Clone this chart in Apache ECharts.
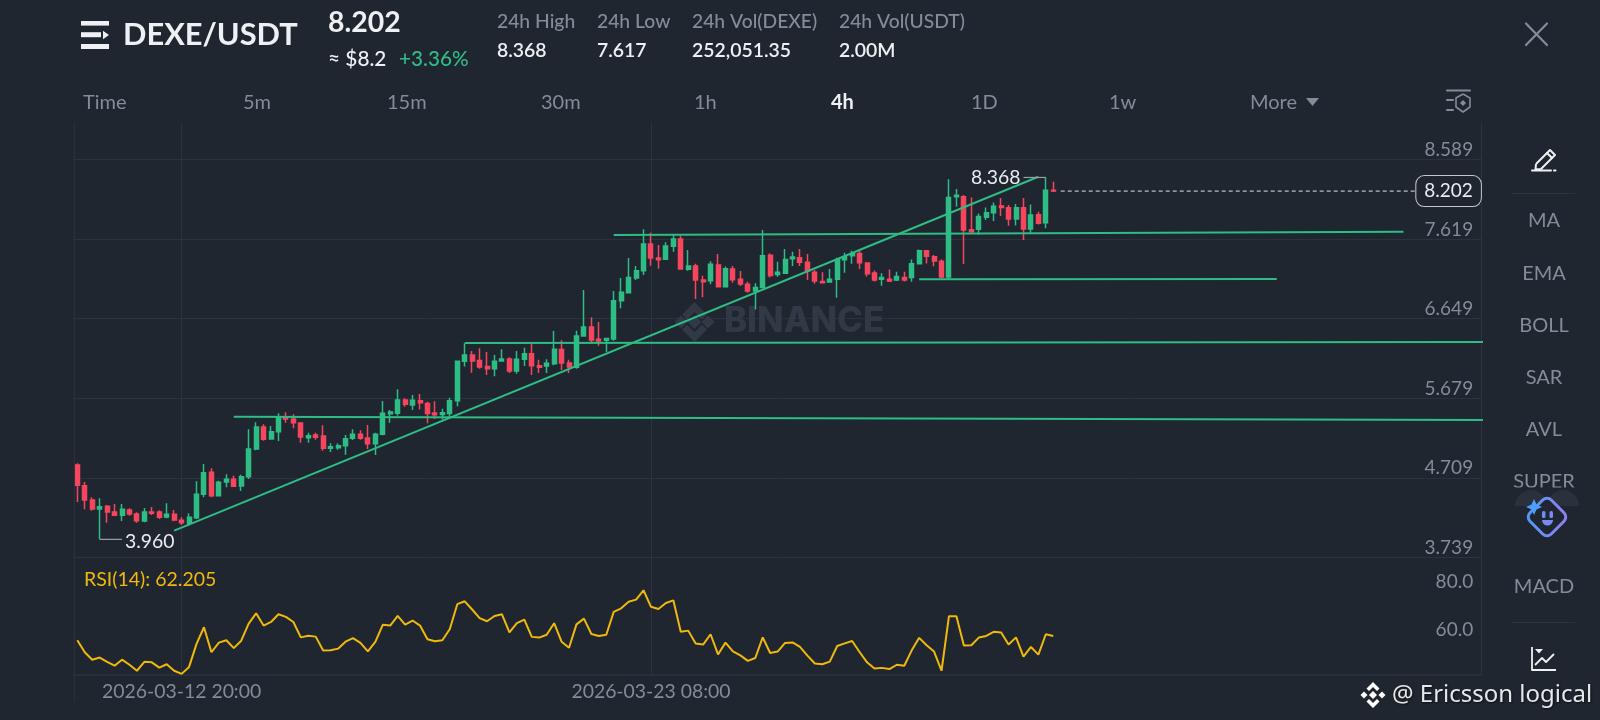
<!DOCTYPE html>
<html><head><meta charset="utf-8">
<style>html,body{margin:0;padding:0;background:#1f2630;overflow:hidden}#c{width:1600px;height:720px}</style>
<script src="https://cdn.jsdelivr.net/npm/echarts@6/dist/echarts.min.js"></script>
</head><body><div id="c"></div>
<script>
const opens = [4.866,4.614,4.439,4.330,4.362,4.293,4.253,4.318,4.269,4.184,4.293,4.293,4.232,4.265,4.192,4.155,4.224,4.508,4.776,4.492,4.659,4.691,4.610,4.724,5.061,5.329,5.182,5.272,5.454,5.426,5.377,5.199,5.231,5.219,5.069,5.077,5.101,5.190,5.239,5.195,5.126,5.239,5.491,5.495,5.657,5.596,5.649,5.616,5.498,5.482,5.494,5.649,6.129,6.206,6.137,6.064,6.039,6.133,6.157,6.011,6.153,6.222,6.076,6.072,6.100,6.271,6.108,6.055,6.437,6.547,6.396,6.384,6.401,6.867,6.965,7.144,7.233,7.558,7.387,7.371,7.529,7.619,7.249,7.290,7.119,7.111,7.302,7.038,7.253,7.127,7.066,6.984,7.029,7.419,7.187,7.200,7.378,7.390,7.334,7.212,7.102,7.094,7.127,7.366,7.415,7.443,7.325,7.204,7.127,7.127,7.118,7.151,7.151,7.317,7.476,7.403,7.346,7.155,8.133,8.133,7.731,7.736,7.882,7.939,8.020,8.000,7.861,8.000,7.740,7.914,7.817,8.211];
const closes = [4.618,4.439,4.330,4.358,4.293,4.253,4.326,4.269,4.188,4.293,4.277,4.228,4.265,4.196,4.163,4.228,4.508,4.772,4.492,4.655,4.691,4.606,4.724,5.061,5.329,5.178,5.272,5.454,5.426,5.381,5.207,5.223,5.203,5.069,5.089,5.101,5.186,5.239,5.190,5.126,5.239,5.495,5.511,5.657,5.605,5.653,5.624,5.494,5.478,5.503,5.649,6.129,6.206,6.133,6.060,6.039,6.129,6.157,6.011,6.153,6.222,6.076,6.055,6.104,6.275,6.108,6.060,6.437,6.547,6.388,6.376,6.405,6.867,6.969,7.148,7.233,7.558,7.387,7.367,7.533,7.619,7.253,7.290,7.119,7.099,7.310,7.038,7.257,7.123,7.070,6.984,7.029,7.415,7.175,7.212,7.370,7.399,7.334,7.228,7.106,7.086,7.127,7.366,7.403,7.439,7.330,7.196,7.118,7.151,7.106,7.163,7.118,7.317,7.476,7.407,7.350,7.155,8.125,8.150,7.727,7.707,7.894,7.939,8.016,8.003,7.861,8.000,7.740,7.910,7.809,8.211,8.202];
const lows = [4.415,4.326,4.309,3.960,4.163,4.249,4.184,4.249,4.163,4.167,4.257,4.208,4.216,4.180,4.135,4.127,4.208,4.472,4.472,4.492,4.594,4.602,4.549,4.695,5.044,5.162,5.182,5.158,5.381,5.312,5.138,5.138,5.174,5.040,5.024,5.052,4.992,5.170,5.174,5.061,4.988,5.227,5.381,5.467,5.576,5.535,5.543,5.373,5.425,5.421,5.446,5.580,6.064,5.990,6.039,5.962,5.946,6.129,5.986,5.978,6.072,5.962,5.986,5.986,6.080,6.023,5.986,6.039,6.437,6.348,6.319,6.242,6.380,6.774,6.965,7.119,7.180,7.294,7.257,7.363,7.464,7.249,7.233,6.888,6.908,7.066,7.038,7.034,7.087,7.045,6.964,6.761,7.017,7.151,7.159,7.191,7.289,7.289,7.118,7.074,7.086,7.090,6.903,7.208,7.317,7.252,7.163,7.102,7.049,7.094,7.106,7.102,7.098,7.317,7.321,7.285,7.139,7.131,8.012,7.313,7.695,7.671,7.849,7.837,7.898,7.780,7.784,7.606,7.695,7.796,7.748,8.190];
const highs = [4.886,4.659,4.472,4.460,4.378,4.391,4.391,4.338,4.289,4.342,4.354,4.314,4.399,4.318,4.228,4.277,4.667,4.878,4.825,4.675,4.752,4.736,4.748,5.300,5.385,5.361,5.341,5.495,5.507,5.483,5.377,5.260,5.260,5.349,5.130,5.130,5.231,5.300,5.288,5.353,5.260,5.645,5.536,5.787,5.678,5.718,5.730,5.637,5.641,5.551,5.685,6.135,6.348,6.254,6.287,6.242,6.206,6.275,6.177,6.254,6.295,6.340,6.149,6.153,6.498,6.384,6.149,6.502,6.997,6.664,6.608,6.413,6.985,7.144,7.387,7.290,7.736,7.696,7.546,7.578,7.679,7.659,7.485,7.318,7.172,7.347,7.436,7.282,7.290,7.228,7.098,7.078,7.727,7.443,7.342,7.496,7.464,7.496,7.435,7.240,7.212,7.252,7.390,7.451,7.476,7.476,7.325,7.236,7.200,7.248,7.220,7.220,7.370,7.492,7.476,7.423,7.370,8.345,8.227,8.154,8.125,7.930,8.003,8.064,8.117,8.032,8.044,8.117,8.040,7.951,8.368,8.316];
const rsiValues = [60.4,55.4,52.3,53.2,51.4,49.8,52.3,50.2,47.7,51.4,51.2,49.0,50.4,47.7,46.4,49.3,58.9,65.8,55.4,59.4,60.4,57.1,60.2,67.3,71.6,66.5,68.0,71.2,70.1,68.0,61.6,62.3,61.9,56.1,56.2,56.9,59.8,61.3,59.3,55.8,59.7,66.8,66.5,70.5,66.9,68.6,66.5,60.8,60.0,60.4,65.1,75.4,76.6,73.2,69.6,68.3,70.5,71.2,63.7,67.5,69.0,61.8,61.5,62.7,67.5,59.8,57.3,67.0,69.4,63.0,62.2,62.7,72.2,73.7,76.4,77.3,81.2,74.3,73.4,75.9,77.0,63.9,64.4,59.0,58.6,62.9,54.5,59.4,55.8,54.1,51.8,53.0,61.6,55.1,55.7,59.3,59.5,57.6,54.0,50.7,50.4,51.5,58.0,59.1,60.1,55.5,51.2,48.6,48.9,48.4,50.2,49.8,56.2,61.4,58.3,55.7,47.7,70.4,70.4,58.2,58.3,61.5,62.2,63.9,63.6,58.6,61.6,53.6,57.6,54.4,62.9,62.2];
const priceTicks = [3.739,4.709,5.679,6.649,7.619,8.589];
const rsiTicks = [60,80];
const timeTickIndexes = [14,77];
const trendLine = [[13,4.066],[129,8.377]];
const level1 = [[21,5.454],[189,5.414]];
const level2 = [[52,6.352],[189,6.364]];
const level3 = [[72,7.667],[178,7.707]];
const level4 = [[113,7.127],[161,7.131]];
const lowMark = [[3,3.960],[6,3.960]];
const highMark = [[127,8.368],[130,8.368]];
const lastPrice = [[132,8.202],[180,8.202]];
const tabs = [['Time',83],['5m',243],['15m',387],['30m',541],['1h',694],['4h',831],['1D',971],['1w',1109],['More',1250]];
const stats = [['24h High','8.368',497],['24h Low','7.617',597],['24h Vol(DEXE)','252,051.35',692],['24h Vol(USDT)','2.00M',839]];
const rail = [['MA',221],['EMA',273.5],['BOLL',325.5],['SAR',377.5],['AVL',429.5],['SUPER',481.5],['MACD',586.5]];

const BG='#1f2630', GREEN='#2ebd85', RED='#f6465d', GRID='#2c333f', GREY='#848c99', WHITE='#eaecef', FF='Lato';
const categories=[];
for(let i=0;i<189;i++){const d=new Date(Date.UTC(2026,2,10,12)+i*4*3600e3);categories.push(d.toISOString().slice(0,16).replace('T',' '));}
const candles=opens.map((o,i)=>[o,closes[i],lows[i],highs[i]]);
const isTick=(i)=>timeTickIndexes.includes(i);
const left=73.6,width=1408.05;
const txt=(text,x,y,fill,font,align,extra)=>Object.assign({type:'text',silent:true,z:extra&&extra.z||5,style:Object.assign({text,x,y,fill,font,align:align||'left',verticalAlign:'middle'},extra&&extra.style||{})});
const ln=(x1,y1,x2,y2,stroke,w)=>({type:'line',silent:true,z:5,shape:{x1,y1,x2,y2},style:{stroke,lineWidth:w||1,lineCap:'round'}});
const rect=(x,y,w,h,fill,r)=>({type:'rect',silent:true,z:5,shape:{x,y,width:w,height:h,r:r||0},style:{fill}});
const poly=(points,fill,z)=>({type:'polygon',silent:true,z:z||5,shape:{points},style:{fill}});
const pline=(points,stroke,w)=>({type:'polyline',silent:true,z:5,shape:{points},style:{stroke,lineWidth:w,fill:'none',lineJoin:'round'}});
const W='#eef0f3';
const g=[];
g.push(ln(74.3,122.5,74.3,702,GRID,1));
g.push(Object.assign(rect(1483,122,10,553,BG),{z:4.5}));
g.push(rect(81,21,28,4.6,W),rect(81,32.2,20,5,W),rect(81,44,28,5,W),poly([[103,30.7],[109,35],[103,39.3]],W));
g.push(txt('DEXE/USDT',123,35.5,W,'700 30.8px '+FF));
g.push(txt('8.202',328,22.5,W,'700 28.4px '+FF));
g.push(txt('≈ $8.2',328,59.5,W,'500 20.8px '+FF));
g.push(txt('+3.36%',399,59.5,GREEN,'500 20.7px '+FF));
stats.forEach(s=>{g.push(txt(s[0],s[2],22,GREY,'500 19.3px '+FF));g.push(txt(s[1],s[2],50.5,W,'600 19.4px '+FF));});
tabs.forEach(t=>{const on=t[0]==='4h';g.push(txt(t[0],t[1],102.5,on?W:GREY,(on?'700':'400')+' 20px '+FF));});
g.push(poly([[1306,98],[1319,98],[1312.5,106]],GREY));
g.push(ln(1526,23.5,1547,45,GREY,2.2),ln(1547,23.5,1526,45,GREY,2.2));
g.push(ln(1447,90.5,1470,90.5,GREY,2),ln(1447,100,1453,100,GREY,2),ln(1447,110,1453,110,GREY,2));
g.push(pline([[1463,94],[1470,98],[1470,107],[1463,112],[1456,107],[1456,98],[1463,94]],GREY,1.6));
g.push(poly([[1463,100],[1466,103],[1463,106],[1460,103]],GREY));
rail.forEach(r=>g.push(txt(r[0],1544,r[1],GREY,'400 20px '+FF,'center')));
g.push(rect(1510,487.5,90,60,BG));
g.push({type:'sector',silent:true,z:5,shape:{cx:1531,cy:506,r:16,startAngle:Math.PI,endAngle:Math.PI*2},style:{fill:'#2a313d'}});
g.push({type:'sector',silent:true,z:5,shape:{cx:1563,cy:506,r:16,startAngle:Math.PI,endAngle:Math.PI*2},style:{fill:'#2a313d'}});
g.push(ln(1512,193.5,1575,193.5,GRID,1),ln(1512,622.5,1575,622.5,GRID,1));
g.push(pline([[1536,164],[1550,150],[1555,155],[1541,169],[1535.5,169.5],[1536,164]],W,2));
g.push(ln(1547,153,1552,158,W,2),ln(1532,170.5,1551,170.5,W,2),ln(1554,170.5,1555.5,170.5,W,2));
g.push({type:'rect',silent:true,z:6,x:1547,y:517,rotation:Math.PI/4,shape:{x:-15,y:-15,width:30,height:30,r:6},
  style:{fill:BG,lineWidth:3,stroke:new echarts.graphic.LinearGradient(0,0,1,1,[{offset:0,color:'#4a9cf6'},{offset:1,color:'#9a7bf5'}])}});
g.push(poly([[1534,499],[1536.5,504.5],[1542,507],[1536.5,509.5],[1534,515],[1531.5,509.5],[1526,507],[1531.5,504.5]],'#4f9dfb',7));
g.push(Object.assign(rect(1542,511,3.5,7,'#6f8cf6',1.5),{z:7}),Object.assign(rect(1549.5,511,3.5,7,'#7c86f6',1.5),{z:7}));
g.push({type:'sector',silent:true,z:7,shape:{cx:1547.5,cy:520,r:5.5,startAngle:0,endAngle:Math.PI},style:{fill:'#7a88f6'}});
g.push(pline([[1532,647],[1532,670],[1556,670]],W,1.8));
g.push(pline([[1535,665],[1542,658],[1546,662],[1554,654]],W,1.8));
g.push(poly([[1535,649],[1543,649],[1539,653.5]],W));
const wm='#323946';
g.push(poly([[694.5,302],[707,314.5],[702,319.5],[694.5,312],[687,319.5],[682,314.5]],wm,1));
g.push(poly([[694.5,315],[701.5,322],[694.5,329],[687.5,322]],wm,1));
g.push(poly([[708,315.5],[714.5,322],[708,328.5],[701.5,322]],wm,1));
g.push(poly([[681,315.5],[687.5,322],[681,328.5],[674.5,322]],wm,1));
g.push(poly([[702,324.5],[707,329.5],[694.5,342],[682,329.5],[687,324.5],[694.5,332]],wm,1));
g.push(txt('BINANCE',724,322,wm,'800 34.8px Inter','left',{z:1}));
const ws='#ffffff';
g.push(poly([[1373,682],[1379.5,688.5],[1377,691],[1373,687],[1369,691],[1366.5,688.5]],ws));
g.push(poly([[1373,691],[1377,695],[1373,699],[1369,695]],ws));
g.push(poly([[1382,691.5],[1385.5,695],[1382,698.5],[1378.5,695]],ws));
g.push(poly([[1364,691.5],[1367.5,695],[1364,698.5],[1360.5,695]],ws));
g.push(poly([[1377,699],[1379.5,701.5],[1373,708],[1366.5,701.5],[1369,699],[1373,703]],ws));
g.push(txt('@ Ericsson logical',1392,695,'#e6e8ea','400 24px "Noto Sans"','left',{style:{textShadowColor:'rgba(0,0,0,.6)',textShadowBlur:2,textShadowOffsetX:1,textShadowOffsetY:1}}));
g.push(txt('RSI(14): 62.205',84,580,'#f0b90b','400 19.5px '+FF));

const green={color:GREEN,width:2};
const mk=(data,lineStyle,extra)=>Object.assign({type:'line',data,xAxisIndex:0,yAxisIndex:0,showSymbol:false,symbol:'none',lineStyle,z:4,silent:true,animation:false},extra||{});
const markLabel=(t,coord,pos,dy)=>({symbol:'circle',symbolSize:0,silent:true,data:[{coord,label:{show:true,formatter:t,position:pos,distance:3,offset:[0,dy],color:WHITE,fontSize:19.4,fontFamily:FF}}]});
const chart=echarts.init(document.getElementById('c'),null,{width:1600,height:720});
chart.setOption({
  animation:false,backgroundColor:BG,
  graphic:{elements:g},
  grid:[{left,top:122.7,width,height:434.8},{left,top:557.5,width,height:117.1}],
  xAxis:[
    {type:'category',gridIndex:0,data:categories,max:188,axisLine:{show:false},axisTick:{show:false},axisLabel:{show:false},
     splitLine:{show:true,alignWithLabel:true,interval:(i)=>isTick(i),lineStyle:{color:GRID,width:1}}},
    {type:'category',gridIndex:1,data:categories,max:188,axisLine:{show:true,lineStyle:{color:GRID,width:1.5}},axisTick:{show:false},
     axisLabel:{show:true,interval:(i)=>isTick(i),color:GREY,fontSize:19.4,fontFamily:FF,margin:8},
     splitLine:{show:true,alignWithLabel:true,interval:(i)=>isTick(i),lineStyle:{color:GRID,width:1}}}
  ],
  yAxis:[
    {type:'value',gridIndex:0,position:'right',min:3.739,max:9.035,scale:true,axisLine:{show:true,lineStyle:{color:GRID}},
     axisTick:{show:false,customValues:priceTicks},
     axisLabel:{inside:true,customValues:priceTicks,margin:8.5,verticalAlign:'bottom',color:GREY,fontSize:19,fontFamily:FF,formatter:(v)=>v.toFixed(3),showMinLabel:true,showMaxLabel:true,hideOverlap:false},
     splitLine:{show:true,lineStyle:{color:GRID,width:1}}},
    {type:'value',gridIndex:1,position:'right',min:46.1,max:94.83,axisLine:{show:true,lineStyle:{color:GRID}},
     axisTick:{show:false,customValues:rsiTicks},
     axisLabel:{inside:true,customValues:rsiTicks,margin:8.5,verticalAlign:'bottom',padding:[0,0,1.5,0],color:GREY,fontSize:19,fontFamily:FF,formatter:(v)=>v.toFixed(1)},
     splitLine:{show:false}}
  ],
  series:[
    {type:'candlestick',xAxisIndex:0,yAxisIndex:0,data:candles,barWidth:4.5,silent:true,z:3,
     itemStyle:{color:GREEN,color0:RED,borderColor:GREEN,borderColor0:RED,borderWidth:1.5}},
    {type:'line',xAxisIndex:1,yAxisIndex:1,data:rsiValues,showSymbol:false,symbol:'none',silent:true,lineStyle:{color:'#f0b90b',width:2}},
    mk(trendLine,green),mk(level1,green),mk(level2,green),mk(level3,green),mk(level4,green),
    mk(lowMark,{color:'#9aa0a8',width:1.2},{markPoint:markLabel('3.960',lowMark[1],'right',2)}),
    mk(highMark,{color:'#9aa0a8',width:1.2},{markPoint:markLabel('8.368',highMark[0],'left',0)}),
    mk(lastPrice,{color:'#dfe3e8',width:1,type:[4,3]},{endLabel:{show:true,formatter:'8.202',position:'right',distance:-2,color:WHITE,fontSize:19,fontFamily:FF,backgroundColor:BG,borderColor:'#c4c8ce',borderWidth:1,borderRadius:8,padding:[6,8,5,8]}})
  ]
});
</script></body></html>
